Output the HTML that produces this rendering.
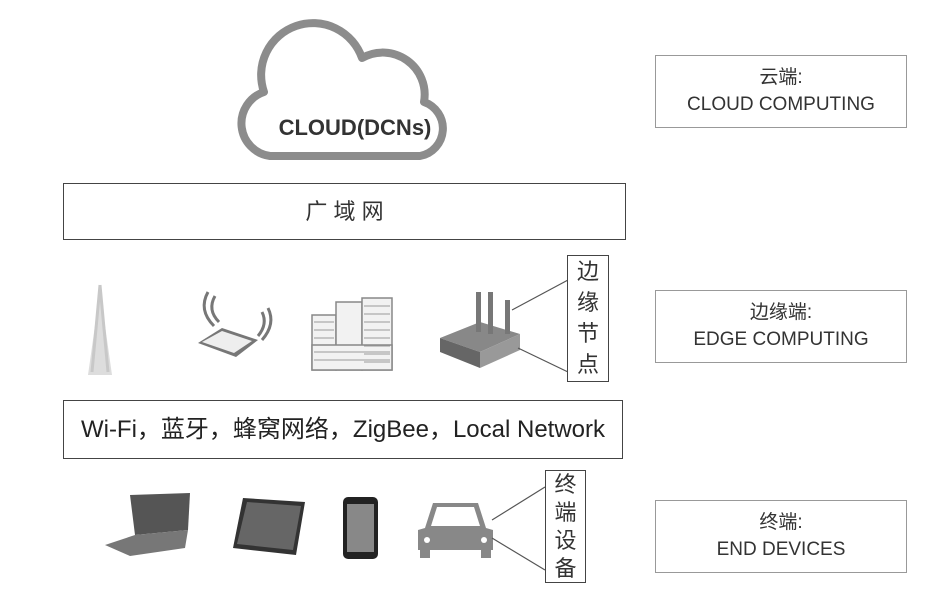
<!DOCTYPE html>
<html><head><meta charset="utf-8"><style>
html,body{margin:0;padding:0;background:#fff;}
body{width:947px;height:607px;position:relative;overflow:hidden;font-family:"Liberation Sans","Noto Sans CJK SC",sans-serif;color:#222;}
.box{position:absolute;border:1.5px solid #444;box-sizing:border-box;background:#fff;}
.rb{position:absolute;border:1.5px solid #999;box-sizing:border-box;text-align:center;font-size:19px;color:#333;line-height:27px;padding-top:8px;}
.vb{position:absolute;border:1.5px solid #444;box-sizing:border-box;background:#fff;font-size:22px;text-align:center;line-height:31px;color:#333;}
</style></head><body>
<svg width="947" height="607" style="position:absolute;left:0;top:0">
<path d="M270,156 A33,33 0 0 1 264,92 A50,50 0 0 1 362,58 A42,42 0 0 1 424,102 A28,28 0 0 1 420,156 Z" fill="#fff" stroke="#8c8c8c" stroke-width="8" stroke-linejoin="round"/>
<text x="355" y="135" text-anchor="middle" font-family="Liberation Sans" font-weight="bold" font-size="22" fill="#333">CLOUD(DCNs)</text>
<path d="M100,290 L88,375 L112,375 Z" fill="#ddd"/>
<path d="M100,285 L92,372 M100,285 L108,372" stroke="#c8c8c8" stroke-width="3"/>
<polygon points="198,343 222,328 258,340 236,357" fill="#777"/>
<polygon points="202,342 222,331 252,341 234,353" fill="#eee"/>
<path d="M215,296 q-8,14 4,26 M208,292 q-10,18 6,34" stroke="#777" stroke-width="3" fill="none"/>
<path d="M262,312 q6,12 -4,24 M268,308 q8,16 -6,32" stroke="#777" stroke-width="3" fill="none"/>
<g fill="#f2f2f2" stroke="#888" stroke-width="1.5">
<rect x="312" y="315" width="24" height="55"/>
<rect x="336" y="302" width="26" height="68"/>
<rect x="362" y="298" width="30" height="72"/>
<rect x="312" y="345" width="80" height="25"/>
</g>
<g stroke="#999" stroke-width="1">
<path d="M314,322h20M314,330h20M314,338h20M364,306h26M364,314h26M364,322h26M364,330h26M364,338h26M364,346h26M364,354h26M364,362h26M314,352h76M314,360h76"/>
</g>
<polygon points="440,338 480,322 520,334 480,352" fill="#888"/>
<polygon points="440,338 480,352 480,368 440,352" fill="#666"/>
<polygon points="480,352 520,334 520,350 480,368" fill="#999"/>
<rect x="476" y="292" width="5" height="40" fill="#777"/>
<rect x="488" y="292" width="5" height="42" fill="#777"/>
<rect x="505" y="300" width="5" height="34" fill="#777"/>
<line x1="568" y1="280" x2="512" y2="310" stroke="#555" stroke-width="1.2"/>
<line x1="568" y1="372" x2="518" y2="348" stroke="#555" stroke-width="1.2"/>
<polygon points="130,495 190,493 188,530 135,535" fill="#555"/>
<polygon points="105,545 135,535 188,530 185,548 130,556" fill="#777"/>
<polygon points="243,498 305,502 296,555 233,548" fill="#333"/>
<polygon points="247,502 301,506 293,550 237,544" fill="#666"/>
<rect x="343" y="497" width="35" height="62" rx="5" fill="#222"/>
<rect x="347" y="504" width="27" height="48" fill="#888"/>
<path d="M425,528 L433,503 L478,503 L486,528 L493,530 L493,550 L418,550 L418,530 Z" fill="#888"/>
<path d="M437,507 L474,507 L480,526 L431,526 Z" fill="#fff"/>
<circle cx="427" cy="540" r="3" fill="#fff"/><circle cx="484" cy="540" r="3" fill="#fff"/>
<rect x="420" y="548" width="10" height="10" fill="#888"/><rect x="481" y="548" width="10" height="10" fill="#888"/>
<line x1="545" y1="487" x2="492" y2="520" stroke="#555" stroke-width="1.2"/>
<line x1="545" y1="570" x2="492" y2="538" stroke="#555" stroke-width="1.2"/>
</svg>
<div class="box" style="left:63px;top:183px;width:563px;height:57px;font-size:22px;text-align:center;line-height:55px;color:#333;">广 域 网</div>
<div class="box" style="left:63px;top:400px;width:560px;height:59px;font-size:24px;text-align:center;line-height:57px;color:#222;white-space:nowrap;">Wi-Fi，蓝牙，蜂窝网络，ZigBee，Local Network</div>
<div class="vb" style="left:567px;top:255px;width:42px;height:127px;">边<br>缘<br>节<br>点</div>
<div class="vb" style="left:545px;top:470px;width:41px;height:113px;line-height:28px;">终<br>端<br>设<br>备</div>
<div class="rb" style="left:655px;top:55px;width:252px;height:73px;">云端:<br>CLOUD COMPUTING</div>
<div class="rb" style="left:655px;top:290px;width:252px;height:73px;">边缘端:<br>EDGE COMPUTING</div>
<div class="rb" style="left:655px;top:500px;width:252px;height:73px;">终端:<br>END DEVICES</div>
</body></html>
